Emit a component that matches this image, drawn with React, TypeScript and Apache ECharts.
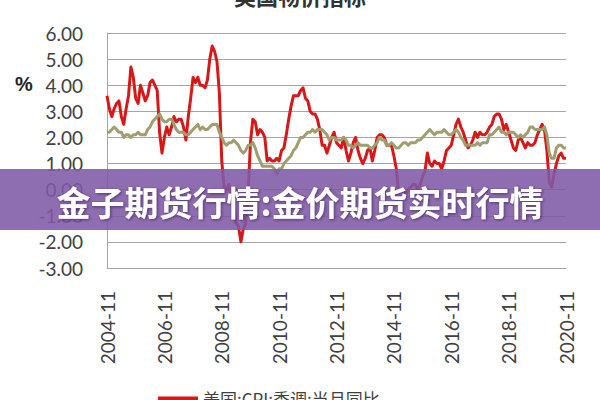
import React, { useEffect, useRef } from "react";
import * as echarts from "echarts";

// Monthly, 2004-11 .. 2020-11
const START_YEAR = 2004;
const START_MONTH = 11;

const cpiHeadline: number[] = [
  // 2004 Nov-Dec
  3.6, 3.1,
  // 2005
  2.8, 3.1, 3.3, 3.4, 2.8, 2.5, 3.1, 3.6, 4.7, 4.3, 3.5, 3.3,
  // 2006
  4.0, 3.7, 3.4, 3.6, 4.1, 4.2, 4.0, 3.8, 2.2, 1.4, 2.0, 2.4,
  // 2007
  2.1, 2.4, 2.8, 2.6, 2.7, 2.7, 2.4, 1.9, 2.8, 3.5, 4.3, 4.1,
  // 2008
  4.3, 4.0, 4.0, 3.9, 4.2, 5.0, 5.5, 5.3, 4.9, 3.7, 1.1, 0.1,
  // 2009
  0.0, 0.2, -0.4, -0.7, -1.3, -1.4, -2.0, -1.5, -1.3, -0.2, 1.8, 2.7,
  // 2010
  2.6, 2.1, 2.3, 2.2, 2.0, 1.1, 1.2, 1.1, 1.1, 1.2, 1.1, 1.5,
  // 2011
  1.6, 2.1, 2.7, 3.2, 3.6, 3.6, 3.6, 3.8, 3.9, 3.5, 3.4, 3.0,
  // 2012
  2.9, 2.9, 2.7, 2.3, 1.7, 1.7, 1.4, 1.7, 2.0, 2.2, 1.8, 1.7,
  // 2013
  1.6, 2.0, 1.5, 1.1, 1.4, 1.8, 2.0, 1.5, 1.2, 1.0, 1.2, 1.5,
  // 2014
  1.6, 1.1, 1.5, 2.0, 2.1, 2.1, 2.0, 1.7, 1.7, 1.7, 1.3, 0.8,
  // 2015
  -0.1, 0.0, -0.1, -0.2, 0.0, 0.1, 0.2, 0.2, 0.0, 0.2, 0.5, 0.7,
  // 2016
  1.4, 1.0, 0.9, 1.1, 1.0, 1.0, 0.8, 1.1, 1.5, 1.6, 1.7, 2.1,
  // 2017
  2.5, 2.7, 2.4, 2.2, 1.9, 1.6, 1.7, 1.9, 2.2, 2.0, 2.2, 2.1,
  // 2018
  2.1, 2.2, 2.4, 2.5, 2.8, 2.9, 2.9, 2.7, 2.3, 2.5, 2.2, 1.9,
  // 2019
  1.6, 1.5, 1.9, 2.0, 1.8, 1.6, 1.8, 1.7, 1.7, 1.8, 2.1, 2.3,
  // 2020 Jan-Nov
  2.5, 2.3, 1.5, 0.3, 0.1, 0.6, 1.0, 1.3, 1.4, 1.2, 1.2,
];

const cpiCore: number[] = [
  // 2004 Nov-Dec
  2.2, 2.2,
  // 2005
  2.3, 2.4, 2.3, 2.2, 2.2, 2.0, 2.1, 2.1, 2.0, 2.1, 2.1, 2.2,
  // 2006
  2.1, 2.1, 2.1, 2.3, 2.4, 2.6, 2.7, 2.8, 2.9, 2.7, 2.6, 2.6,
  // 2007
  2.7, 2.7, 2.5, 2.3, 2.2, 2.2, 2.2, 2.1, 2.1, 2.2, 2.3, 2.4,
  // 2008
  2.5, 2.3, 2.4, 2.3, 2.3, 2.4, 2.5, 2.5, 2.5, 2.2, 2.0, 1.8,
  // 2009
  1.7, 1.8, 1.8, 1.9, 1.8, 1.7, 1.5, 1.4, 1.5, 1.7, 1.7, 1.8,
  // 2010
  1.6, 1.3, 1.1, 0.9, 0.9, 0.9, 0.9, 0.9, 0.8, 0.6, 0.8, 0.8,
  // 2011
  1.0, 1.1, 1.2, 1.3, 1.5, 1.6, 1.8, 2.0, 2.0, 2.1, 2.2, 2.2,
  // 2012
  2.3, 2.2, 2.3, 2.3, 2.3, 2.2, 2.1, 1.9, 2.0, 2.0, 1.9, 1.9,
  // 2013
  1.9, 2.0, 1.9, 1.7, 1.7, 1.6, 1.7, 1.8, 1.7, 1.7, 1.7, 1.7,
  // 2014
  1.6, 1.6, 1.7, 1.8, 2.0, 1.9, 1.9, 1.7, 1.7, 1.8, 1.7, 1.6,
  // 2015
  1.6, 1.7, 1.8, 1.8, 1.7, 1.8, 1.8, 1.8, 1.9, 1.9, 2.0, 2.1,
  // 2016
  2.2, 2.3, 2.2, 2.1, 2.2, 2.2, 2.2, 2.3, 2.2, 2.1, 2.1, 2.2,
  // 2017
  2.3, 2.2, 2.0, 1.9, 1.7, 1.7, 1.7, 1.7, 1.7, 1.8, 1.7, 1.8,
  // 2018
  1.8, 1.8, 2.1, 2.1, 2.2, 2.3, 2.4, 2.2, 2.2, 2.1, 2.2, 2.2,
  // 2019
  2.2, 2.1, 2.0, 2.1, 2.0, 2.1, 2.2, 2.4, 2.4, 2.3, 2.3, 2.3,
  // 2020 Jan-Nov
  2.3, 2.4, 2.1, 1.4, 1.2, 1.2, 1.6, 1.7, 1.7, 1.6, 1.6,
];

const categories: string[] = cpiHeadline.map((_, i) => {
  const m0 = START_MONTH - 1 + i;
  const y = START_YEAR + Math.floor(m0 / 12);
  const m = (m0 % 12) + 1;
  return `${y}-${m < 10 ? "0" + m : m}`;
});

const yTicks = { min: -3, max: 6, interval: 1 };

const titleText = "美国物价指标";
const unitText = "%";
const legendName = "美国:CPI:季调:当月同比";
const coreName = "美国:核心CPI:季调:当月同比";
const bannerText = "金子期货行情:金价期货实时行情";

export default function App() {
  const ref = useRef<HTMLDivElement>(null);
  useEffect(() => {
    if (!ref.current) return;
    const chart = echarts.init(ref.current, undefined, { renderer: "svg" });
    const labelFont = "Lato, 'Liberation Sans', sans-serif";
    chart.setOption({
      animation: false,
      backgroundColor: "#ffffff",
      grid: { left: 107, right: 34, top: 33, bottom: 132, containLabel: false },
      legend: {
        data: [legendName],
        left: 153,
        top: 385,
        icon: "rect",
        itemWidth: 40,
        itemHeight: 4,
        itemGap: 20,
        textStyle: {
          fontSize: 17,
          color: "#404040",
          fontFamily: "'Noto Sans CJK SC', sans-serif",
        },
      },
      xAxis: {
        type: "category",
        data: categories,
        boundaryGap: false,
        axisLine: { show: true, onZero: false, lineStyle: { color: "#a6a6a6", width: 1 } },
        axisTick: { show: false },
        splitLine: { show: false },
        axisLabel: {
          interval: 23,
          rotate: 90,
          margin: 23,
          fontSize: 19,
          color: "#404040",
          fontFamily: labelFont,
        },
      },
      yAxis: {
        type: "value",
        min: yTicks.min,
        max: yTicks.max,
        interval: yTicks.interval,
        axisLine: { show: true, lineStyle: { color: "#a6a6a6", width: 1 } },
        axisTick: { show: false },
        splitLine: { show: true, lineStyle: { color: "#a6a6a6", width: 1 } },
        axisLabel: {
          margin: 24,
          fontSize: 19,
          color: "#404040",
          fontFamily: labelFont,
          formatter: (v: number) => v.toFixed(2),
        },
      },
      series: [
        {
          name: legendName,
          type: "line",
          data: cpiHeadline,
          symbol: "none",
          color: "#d81818",
          lineStyle: { color: "#d81818", width: 3, join: "round" },
          z: 2,
        },
        {
          name: coreName,
          type: "line",
          data: cpiCore,
          symbol: "none",
          color: "#a09d6f",
          lineStyle: { color: "#a09d6f", width: 3, join: "round" },
          z: 3,
        },
      ],
      graphic: [
        {
          type: "text",
          x: 300,
          y: -5,
          style: {
            text: titleText,
            fill: "#333333",
            font: "bold 22px 'Noto Sans CJK SC', sans-serif",
            textAlign: "center",
            textVerticalAlign: "middle",
          },
        },
        {
          type: "text",
          x: 24,
          y: 84,
          style: {
            text: unitText,
            fill: "#222222",
            font: "bold 20px 'Liberation Sans', sans-serif",
            textAlign: "center",
            textVerticalAlign: "middle",
          },
        },
        {
          type: "rect",
          z: 100,
          shape: { x: 0, y: 169, width: 600, height: 61 },
          style: { fill: "rgba(128,89,166,0.88)" },
        },
        {
          type: "text",
          z: 101,
          x: 300,
          y: 201,
          style: {
            text: bannerText,
            fill: "#ffffff",
            font: "bold 34px 'Noto Sans CJK SC', sans-serif",
            textAlign: "center",
            textVerticalAlign: "middle",
            textShadowColor: "rgba(40,20,60,0.6)",
            textShadowBlur: 3,
            textShadowOffsetX: 1,
            textShadowOffsetY: 1,
          },
        },
      ],
    });
    return () => chart.dispose();
  }, []);
  return (
    <div
      ref={ref}
      style={{ position: "fixed", left: 0, top: 0, width: 600, height: 400 }}
    />
  );
}
